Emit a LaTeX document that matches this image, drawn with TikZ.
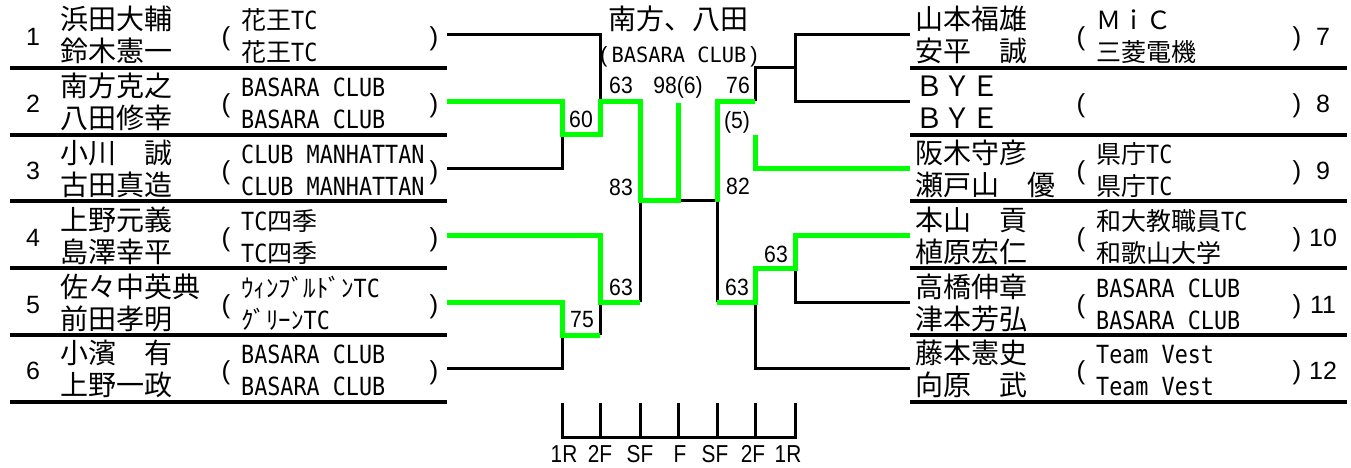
\documentclass[tikz,border=0pt]{standalone}
\usepackage{fontspec}
\newfontfamily\jpn{Noto Sans CJK JP}
\newfontfamily\mono[FakeStretch=0.87]{DejaVu Sans Mono}
\newfontfamily\monow[FakeStretch=0.97]{DejaVu Sans Mono}
\newfontfamily\arial{Liberation Sans}
\newfontfamily\arialn[FakeStretch=0.85]{Liberation Sans}
\newfontfamily\arialm[FakeStretch=0.9]{Liberation Sans}
\definecolor{winner}{RGB}{0,255,0}
\tikzset{
  pname/.style={anchor=base west, inner sep=0pt, font=\jpn\fontsize{28}{30}\selectfont},
  pclub/.style={anchor=base west, inner sep=0pt, font=\mono\fontsize{25}{28}\selectfont},
  paren/.style={inner sep=0pt, font=\arial\fontsize{26}{28}\selectfont},
  rnum/.style={anchor=base, inner sep=0pt, font=\arial\fontsize{25}{27}\selectfont},
  score/.style={anchor=base, inner sep=0pt, font=\arialm\fontsize{23.5}{25}\selectfont},
  rlab/.style={anchor=base, inner sep=0pt, font=\arialn\fontsize{24.5}{26}\selectfont},
  sepline/.style={line width=3.5pt, black},
  bk/.style={line width=3pt, black, line join=miter},
  gr/.style={line width=5pt, winner, line join=miter},
}
\newcommand\lrow[6]{%
  \coordinate (e#1) at (447,#2);
  \node[rnum] (num#1) at (33,#2+11) {#1};
  \node[pname] (na#1) at (60,#2-5) {#3};
  \node[pname] (nb#1) at (60,#2+27) {#4};
  \node[paren] (po#1) at (226,#2+5) {(};
  \node[pclub] (ca#1) at (241,#2-5) {#5};
  \node[pclub] (cb#1) at (241,#2+27) {#6};
  \node[paren] (pc#1) at (434,#2+5) {)};
}
\newcommand\rrow[6]{%
  \coordinate (e#1) at (910,#2);
  \node[pname] (na#1) at (915,#2-5) {#3};
  \node[pname] (nb#1) at (915,#2+27) {#4};
  \node[paren] (po#1) at (1081,#2+5) {(};
  \node[pclub] (ca#1) at (1096,#2-5) {#5};
  \node[pclub] (cb#1) at (1096,#2+27) {#6};
  \node[paren] (pc#1) at (1297,#2+5) {)};
  \node[rnum] (num#1) at (1323,#2+11) {#1};
}
\begin{document}
\begin{tikzpicture}[x=1pt,y=-1pt]
\useasboundingbox (0,0) rectangle (1351,467);
\fill[white] (0,0) rectangle (1351,467);

% separator lines
\foreach \yy in {68,135,201,268,335,402}{
  \draw[sepline] (10,\yy) -- (447,\yy);
  \draw[sepline] (910,\yy) -- (1347,\yy);
}

% players
\lrow{1}{34}{浜田大輔}{鈴木憲一}{{\jpn 花王}TC}{{\jpn 花王}TC}
\lrow{2}{101}{南方克之}{八田修幸}{BASARA CLUB}{BASARA CLUB}
\lrow{3}{168}{小川　誠}{古田真造}{CLUB MANHATTAN}{CLUB MANHATTAN}
\lrow{4}{235}{上野元義}{島澤幸平}{TC{\jpn 四季}}{TC{\jpn 四季}}
\lrow{5}{302}{佐々中英典}{前田孝明}{{\jpn ｳｨﾝﾌﾞﾙﾄﾞﾝ}TC}{{\jpn ｸﾞﾘｰﾝ}TC}
\lrow{6}{368}{小濱　有}{上野一政}{BASARA CLUB}{BASARA CLUB}
\rrow{7}{34}{山本福雄}{安平　誠}{{\jpn ＭｉＣ}}{{\jpn 三菱電機}}
\rrow{8}{101}{ＢＹＥ}{ＢＹＥ}{}{}
\rrow{9}{168}{阪木守彦}{瀬戸山　優}{{\jpn 県庁}TC}{{\jpn 県庁}TC}
\rrow{10}{235}{本山　貢}{植原宏仁}{{\jpn 和大教職員}TC}{{\jpn 和歌山大学}}
\rrow{11}{302}{高橋伸章}{津本芳弘}{BASARA CLUB}{BASARA CLUB}
\rrow{12}{368}{藤本憲史}{向原　武}{Team Vest}{Team Vest}

% black bracket lines
\draw[bk] (e1) -- (600,34) -- (600,101);
\draw[bk] (e3) -- (562,168) -- (562,134);
\draw[bk] (600,302) -- (600,335);
\draw[bk] (e6) -- (562,368) -- (562,335);
\draw[bk] (640,200) -- (640,302);
\draw[bk] (678,200) -- (717,200);
\draw[bk] (e7) -- (795,34) -- (795,101) -- (e8);
\draw[bk] (795,67) -- (755,67) -- (755,101);
\draw[bk] (717,200) -- (717,302);
\draw[bk] (e11) -- (795,302) -- (795,268);
\draw[bk] (e12) -- (755,368) -- (755,302);

% winner lines
\draw[gr] (e2) -- (562,101) -- (562,134) -- (600,134) -- (600,101) -- (640,101) -- (640,200) -- (678,200) -- (678,103);
\draw[gr] (e4) -- (600,235) -- (600,302) -- (640,302);
\draw[gr] (e5) -- (562,302) -- (562,335) -- (600,335);
\draw[gr] (755,101) -- (717,101) -- (717,202);
\draw[gr] (e9) -- (755,168) -- (755,135);
\draw[gr] (e10) -- (795,235) -- (795,268) -- (755,268) -- (755,302) -- (717,302);

% champion
\node[inner sep=0pt, font=\jpn\fontsize{28}{30}\selectfont] (champ) at (678,19) {南方、八田};
\node[anchor=base, inner sep=0pt] (champclub) at (679,62)
  {{\arial\fontsize{22}{24}\selectfont (}\hspace{4pt}{\monow\fontsize{21}{24}\selectfont BASARA CLUB}\hspace{4pt}{\arial\fontsize{22}{24}\selectfont )}};

% scores
\node[score] (s1) at (581,127) {60};
\node[score] (s2) at (621,93) {63};
\node[score] (s3) at (678,93) {98(6)};
\node[score] (s4) at (738,93) {76};
\node[score] (s5) at (737,128) {(5)};
\node[score] (s6) at (621,195) {83};
\node[score] (s7) at (738,194) {82};
\node[score] (s8) at (621,295) {63};
\node[score] (s9) at (582,327) {75};
\node[score] (s10) at (737,295) {63};
\node[score] (s11) at (776,262) {63};

% round scale
\foreach \xx/\nm in {562/1,600/2,640/3,678/4,717/5,755/6,795/7}{
  \coordinate (t\nm) at (\xx,403);
  \coordinate (b\nm) at (\xx,437);
  \draw[bk] (t\nm) -- (b\nm);
}
\draw[bk] (560.5,437) -- (796.5,437);
\node[rlab] (r1) at (564,462) {1R};
\node[rlab] (r2) at (600,462) {2F};
\node[rlab] (r3) at (640,462) {SF};
\node[rlab] (r4) at (680,462) {F};
\node[rlab] (r5) at (715,462) {SF};
\node[rlab] (r6) at (753,462) {2F};
\node[rlab] (r7) at (788,462) {1R};
\end{tikzpicture}
\end{document}
